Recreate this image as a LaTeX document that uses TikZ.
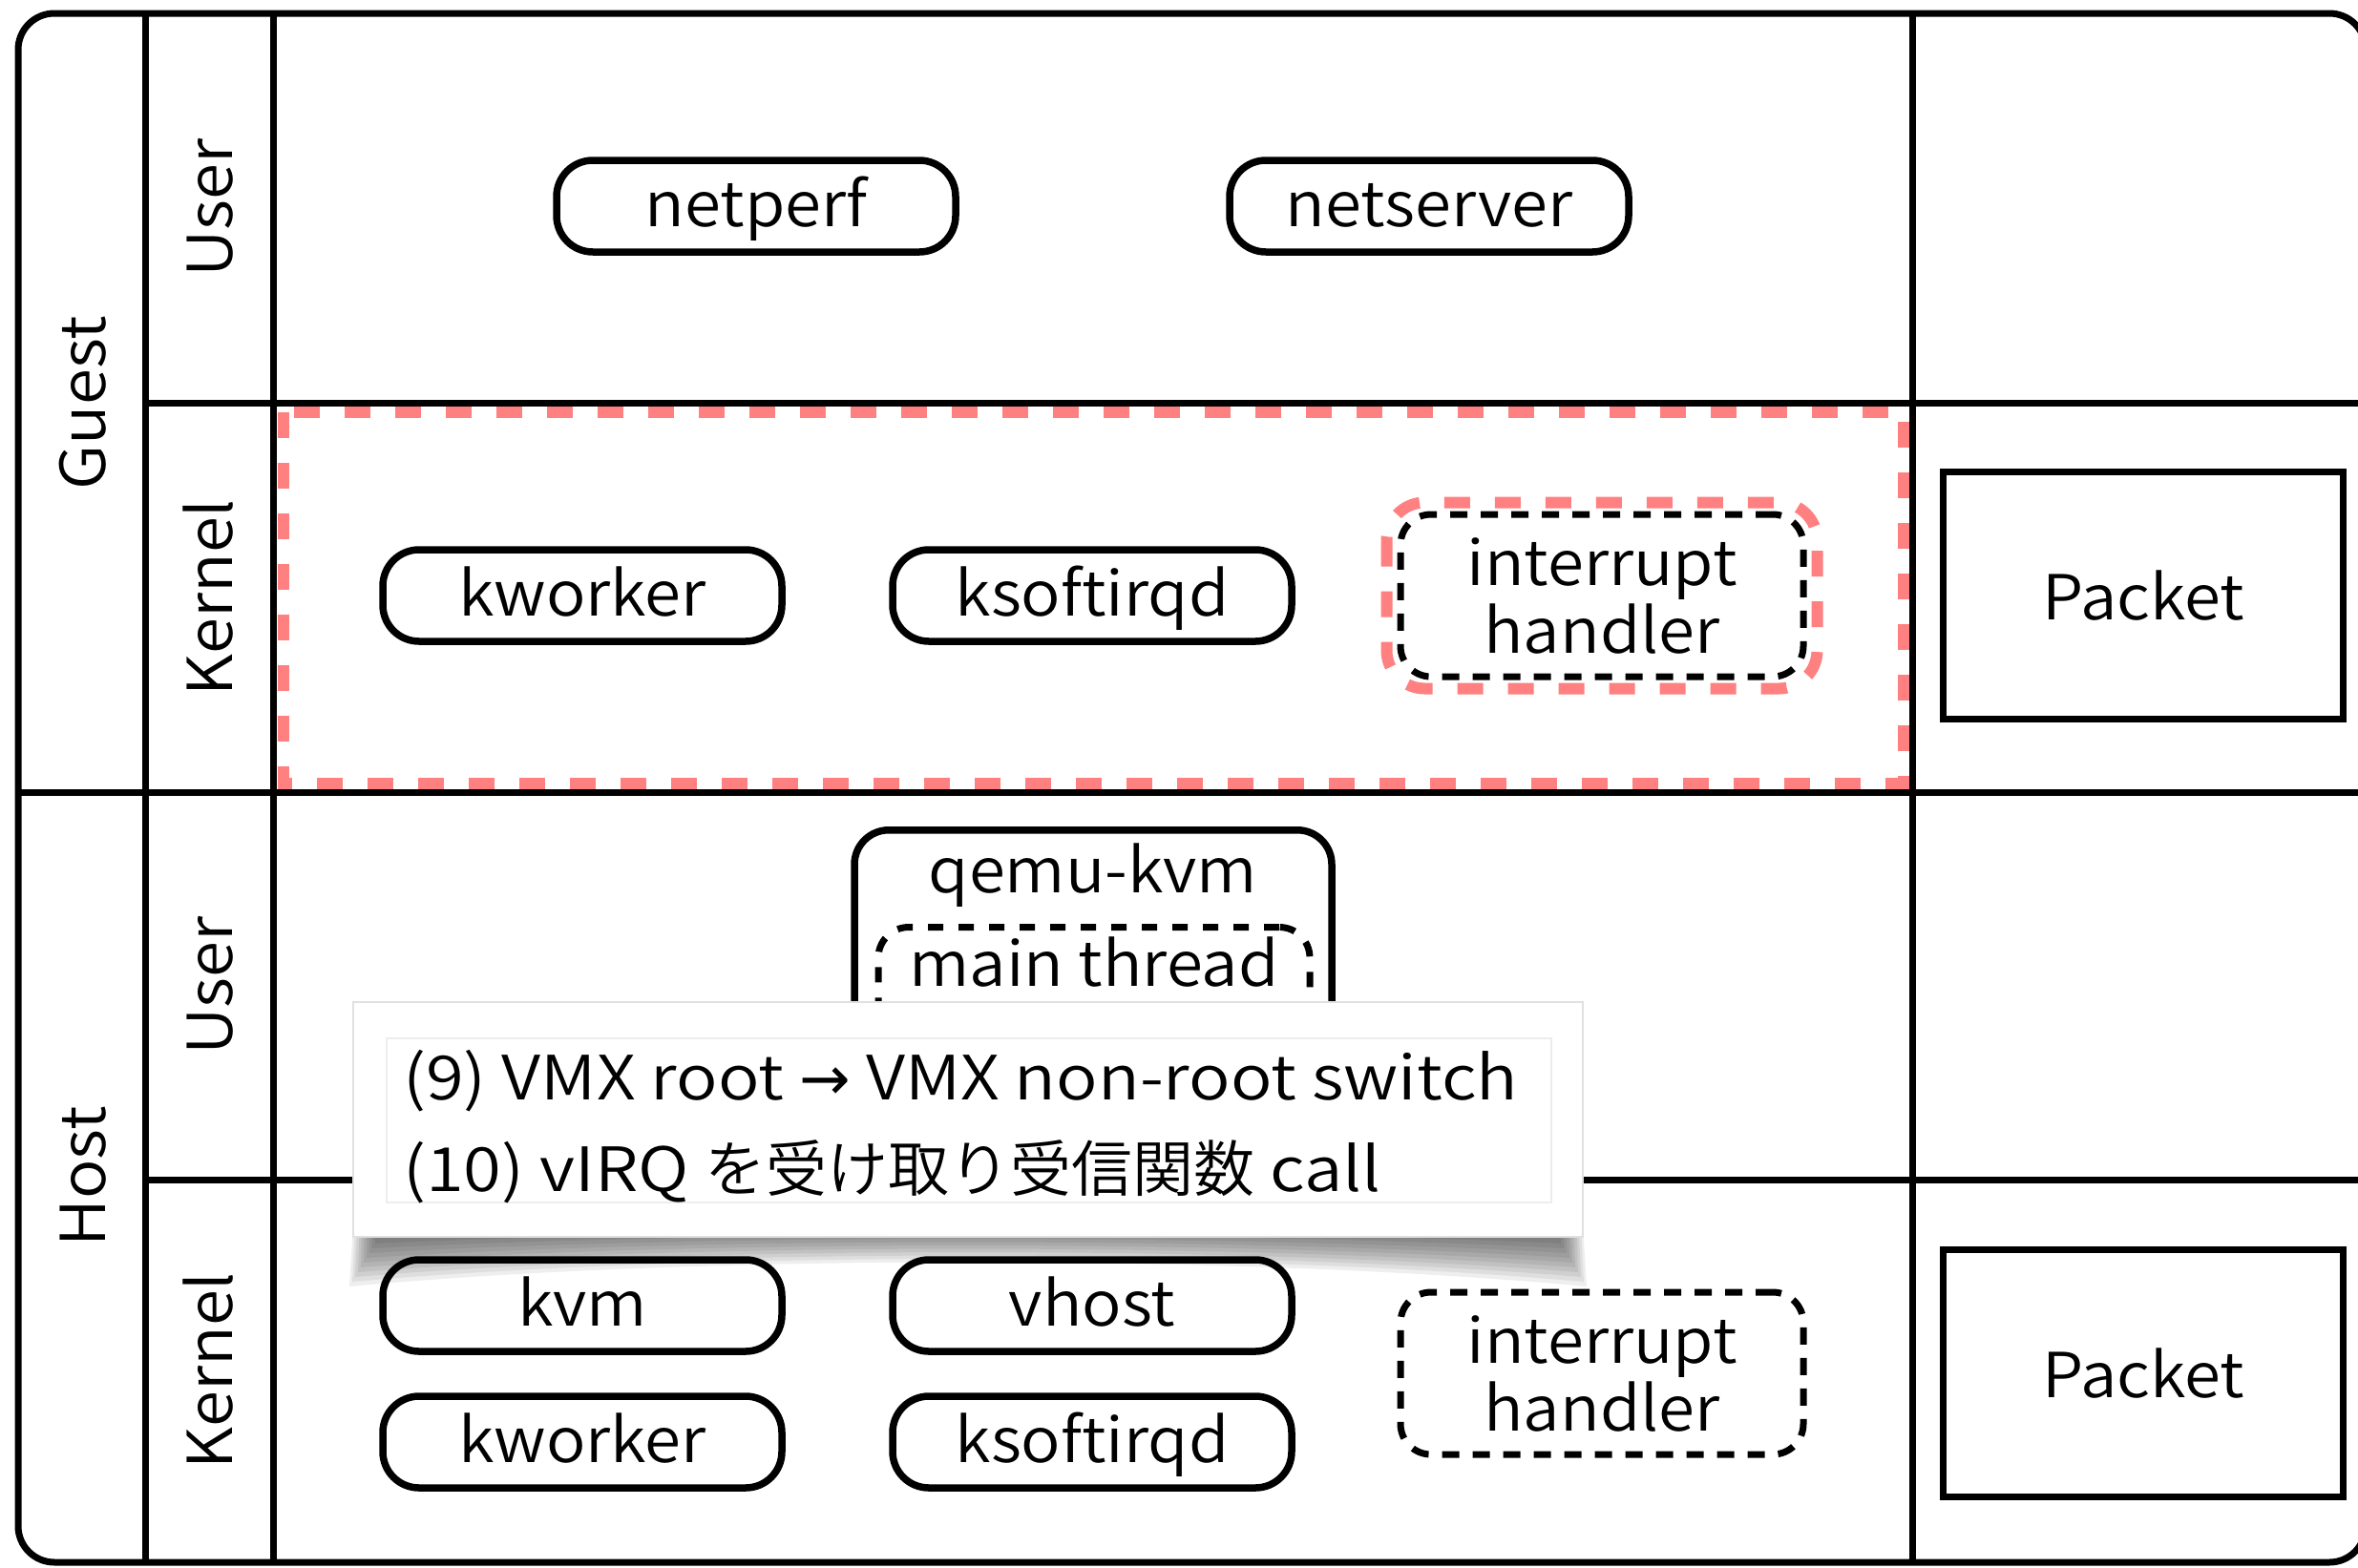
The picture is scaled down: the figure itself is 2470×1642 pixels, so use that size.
\documentclass[tikz,border=0pt]{standalone}
\usepackage{fontspec}
\setmainfont{Noto Sans CJK JP DemiLight}[FakeStretch=1.06]
\newfontfamily\calloutfont{Noto Sans CJK JP DemiLight}[FakeStretch=1.13]
\newfontfamily\jpfont{Noto Sans CJK JP DemiLight}
\newfontfamily\dejavu{DejaVu Sans}
\definecolor{dashred}{RGB}{255,128,128}
\begin{document}
\begin{tikzpicture}[x=1pt,y=-1pt,
  every node/.style={font=\fontsize{65}{71}\selectfont, inner sep=0pt},
  frameline/.style={line width=7pt},
  rbox/.style={draw, line width=7.5pt, rounded corners=38pt, minimum width=418pt, minimum height=96pt, text height=51pt, text depth=9pt},
  dbox/.style={draw, line width=7pt, dash pattern=on 18pt off 14pt, rounded corners=32pt, minimum width=422pt, minimum height=170pt, align=center},
  reddash/.style={draw=dashred, line width=12pt, dash pattern=on 27pt off 26pt},
  pbox/.style={draw, line width=7pt, minimum width=419pt, minimum height=259pt, text height=50pt, text depth=0pt},
  vlabel/.style={rotate=90, text height=48pt, text depth=0pt},
  txt/.style={text height=51pt, text depth=9pt},
  callouttext/.style={anchor=base west, font=\fontsize{64}{70}\calloutfont}
]
\useasboundingbox (0,0) rectangle (2470,1642);
\clip (0,0) rectangle (2470,1642);

% frame and grid
\draw[frameline, rounded corners=38pt] (19,14) rectangle (2478,1637);
\draw[frameline] (152,14) -- (152,1637);
\draw[frameline] (286,14) -- (286,1637);
\draw[frameline] (2003,14) -- (2003,1637);
\draw[frameline] (152,422) -- (2478,422);
\draw[frameline] (19,830) -- (2478,830);
\draw[frameline] (152,1236) -- (2478,1236);

% side labels
\node[vlabel] (guest) at (86,422) {Guest};
\node[vlabel] (host) at (86,1233) {Host};
\node[vlabel] (guser) at (219,218) {User};
\node[vlabel] (gkernel) at (219,626) {Kernel};
\node[vlabel] (huser) at (219,1033) {User};
\node[vlabel] (hkernel) at (219,1436) {Kernel};

% guest
\node[rbox] (netperf) at (792,216) {netperf};
\node[rbox] (netserver) at (1497,216) {netserver};
\draw[reddash] (297,432) rectangle (1994,821);
\node[rbox] (gkworker) at (610,624) {kworker};
\node[rbox] (gksoft) at (1144,624) {ksoftirqd};
\node[dbox] (gint) at (1678,624) {interrupt\\handler};
\draw[reddash, rounded corners=40pt] ([shift={(-11,-9)}]gint.north west) rectangle ([shift={(11,9)}]gint.south east);
\node[pbox] (gpacket) at (2245,624) {Packet};

% host
\node[draw, line width=7.5pt, rounded corners=36pt, minimum width=500pt, minimum height=300pt, anchor=north] (qemu) at (1145,866) {};
\node[txt] (qemulabel) at (1145,914) {qemu-kvm};
\node[draw, line width=7pt, dash pattern=on 16pt off 16pt, rounded corners=32pt, minimum width=452pt, minimum height=160pt, anchor=north] (mainth) at (1146,968) {};
\node[txt] (mainlabel) at (1146,1012) {main thread};
\node[rbox] (kvm) at (610,1368) {kvm};
\node[rbox] (vhost) at (1144,1368) {vhost};
\node[rbox] (hkworker) at (610,1511) {kworker};
\node[rbox] (hksoft) at (1144,1511) {ksoftirqd};
\node[dbox] (hint) at (1678,1439) {interrupt\\handler};
\node[pbox] (hpacket) at (2245,1439) {Packet};

% callout shadow
\foreach \k in {0,...,9} {
  \fill[black, opacity=0.065] (372+\k*2,1250) -- (1656-\k*2,1250) -- (1662-\k*3,1348-\k*5)
    .. controls (1300,1314-\k*3) and (730,1314-\k*3) .. (366+\k*3,1348-\k*5) -- cycle;
}
% callout
\node[draw=black!12, line width=1.5pt, fill=white, minimum width=1288pt, minimum height=246pt] (callout) at (1014,1173) {};
\node[draw=black!7, line width=2pt, minimum width=1220pt, minimum height=172pt] (calloutin) at (1015,1174) {};
\node[callouttext] (l9) at (422,1152) {(9) VMX root {\dejavu →} VMX non-root switch};
\node[callouttext] (l10) at (422,1248) {(10) vIRQ {\jpfont を受け取り受信関数} call};
\end{tikzpicture}
\end{document}
